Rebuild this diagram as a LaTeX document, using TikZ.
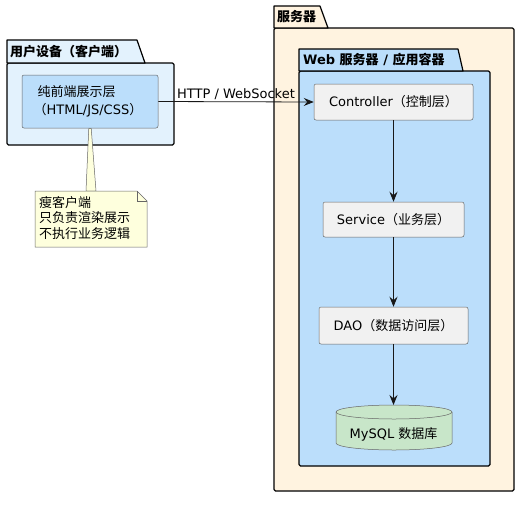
\documentclass[tikz,border=0pt]{standalone}
\usepackage{fontspec}
\setmainfont{DejaVu Sans}
\newfontfamily\cjk{Noto Sans CJK SC}
\usepackage{tikz}
\usetikzlibrary{shapes,arrows,arrows.meta}
\usetikzlibrary{calc}
\usetikzlibrary{positioning}

\definecolor{clientbg}{HTML}{E3F2FD}
\definecolor{layerblue}{HTML}{BBDEFB}
\definecolor{serverbg}{HTML}{FFF3E0}
\definecolor{boxgray}{HTML}{F1F1F1}
\definecolor{dbgreen}{HTML}{C8E6C9}
\definecolor{notebg}{HTML}{FEFFDD}
\definecolor{linedark}{HTML}{181818}

\tikzstyle{every node}=[font=\fontsize{13}{15}\selectfont]
\tikzstyle{pkg}=[draw=black,line width=1.2pt,line join=round]
\tikzstyle{pkgtitle}=[anchor=west,inner sep=0pt,font=\fontsize{13}{15}\selectfont\bfseries]
\tikzstyle{layer}=[draw=gray!80!black,line width=0.5pt,rounded corners=2pt,fill=boxgray]
\tikzstyle{flow}=[-{Stealth[length=10pt,width=8pt,inset=3.5pt]},draw=linedark,line width=0.8pt]

\begin{document}
\begin{tikzpicture}[x=1pt,y=-1pt]
\useasboundingbox (0,0) rectangle (528,504);

% client package
\draw [pkg,fill=clientbg,rounded corners=1.5pt] (7,63) rectangle (174,145);
\draw [pkg,fill=clientbg] (7,63) -- (7,40) -- (137,40) -- (145,63) -- cycle;
\node [pkgtitle] (clienttitle) at (10,52) {\cjk 用户设备（客户端）};
\node [layer,fill=layerblue,minimum width=136pt,minimum height=53pt,align=left] (front) at (90,101.5)
 {{\cjk 纯前端展示层}\\[2.5pt]\hspace*{-4pt}{\cjk （}HTML/JS/CSS{\cjk ）}};

% server package
\draw [pkg,fill=serverbg,rounded corners=1.5pt] (274,28) rectangle (514,491);
\draw [pkg,fill=serverbg] (274,28) -- (274,6) -- (320,6) -- (328,28) -- cycle;
\node [pkgtitle] (servertitle) at (277,17) {\cjk 服务器};

% web container
\draw [pkg,fill=layerblue,rounded corners=1.5pt] (299,71) rectangle (490,466);
\draw [pkg,fill=layerblue] (299,71) -- (299,49) -- (458,49) -- (463,71) -- cycle;
\node [pkgtitle] (webtitle) at (303,60) {Web {\cjk 服务器} / {\cjk 应用容器}};

% layers
\node [layer,minimum width=159pt,minimum height=36pt] (ctrl) at (393.5,102) {Controller{\cjk （控制层）}};
\node [layer,minimum width=141pt,minimum height=35pt] (svc) at (393.5,219.5) {Service{\cjk （业务层）}};
\node [layer,minimum width=149pt,minimum height=37pt] (dao) at (393.5,325.5) {DAO{\cjk （数据访问层）}};

% database
\draw [draw=gray!80!black,line width=0.5pt,fill=dbgreen] (336,443) arc (180:360:58pt and 7pt) -- (452,412)
 arc (0:180:58pt and 7pt) -- cycle;
\draw [draw=gray!80!black,line width=0.5pt] (336,412) arc (180:360:58pt and 7pt);
\coordinate (dbtop) at (393.5,405);
\node (db) at (393.5,434) {MySQL {\cjk 数据库}};

% note
\coordinate (wedgeL) at (86,191);
\coordinate (wedgeR) at (96,191);
\draw [draw=gray!80!black,line width=0.5pt,fill=notebg] ($(front.south)+(-1.2,0)$) -- (wedgeL) -- (wedgeR) -- ($(front.south)+(1.2,0)$) -- cycle;
\draw [draw=gray!80!black,line width=0.5pt,fill=notebg] (35,191) -- (137,191) -- (147,201) -- (147,247) -- (35,247) -- cycle;
\draw [draw=gray!80!black,line width=0.5pt] (137,191) -- (137,201) -- (147,201);
\node [anchor=north west,align=left,inner sep=0pt,font=\cjk\fontsize{13}{15.5}\selectfont] (note) at (39,196)
 {瘦客户端\\只负责渲染展示\\不执行业务逻辑};

% connectors
\draw [flow] (front.east) -- node [above,inner sep=2pt] (httplabel) {HTTP / WebSocket} (ctrl.west);
\draw [flow] (ctrl.south) -- (svc.north);
\draw [flow] (svc.south) -- (dao.north);
\draw [flow] (dao.south) -- (dbtop);
\end{tikzpicture}
\end{document}
